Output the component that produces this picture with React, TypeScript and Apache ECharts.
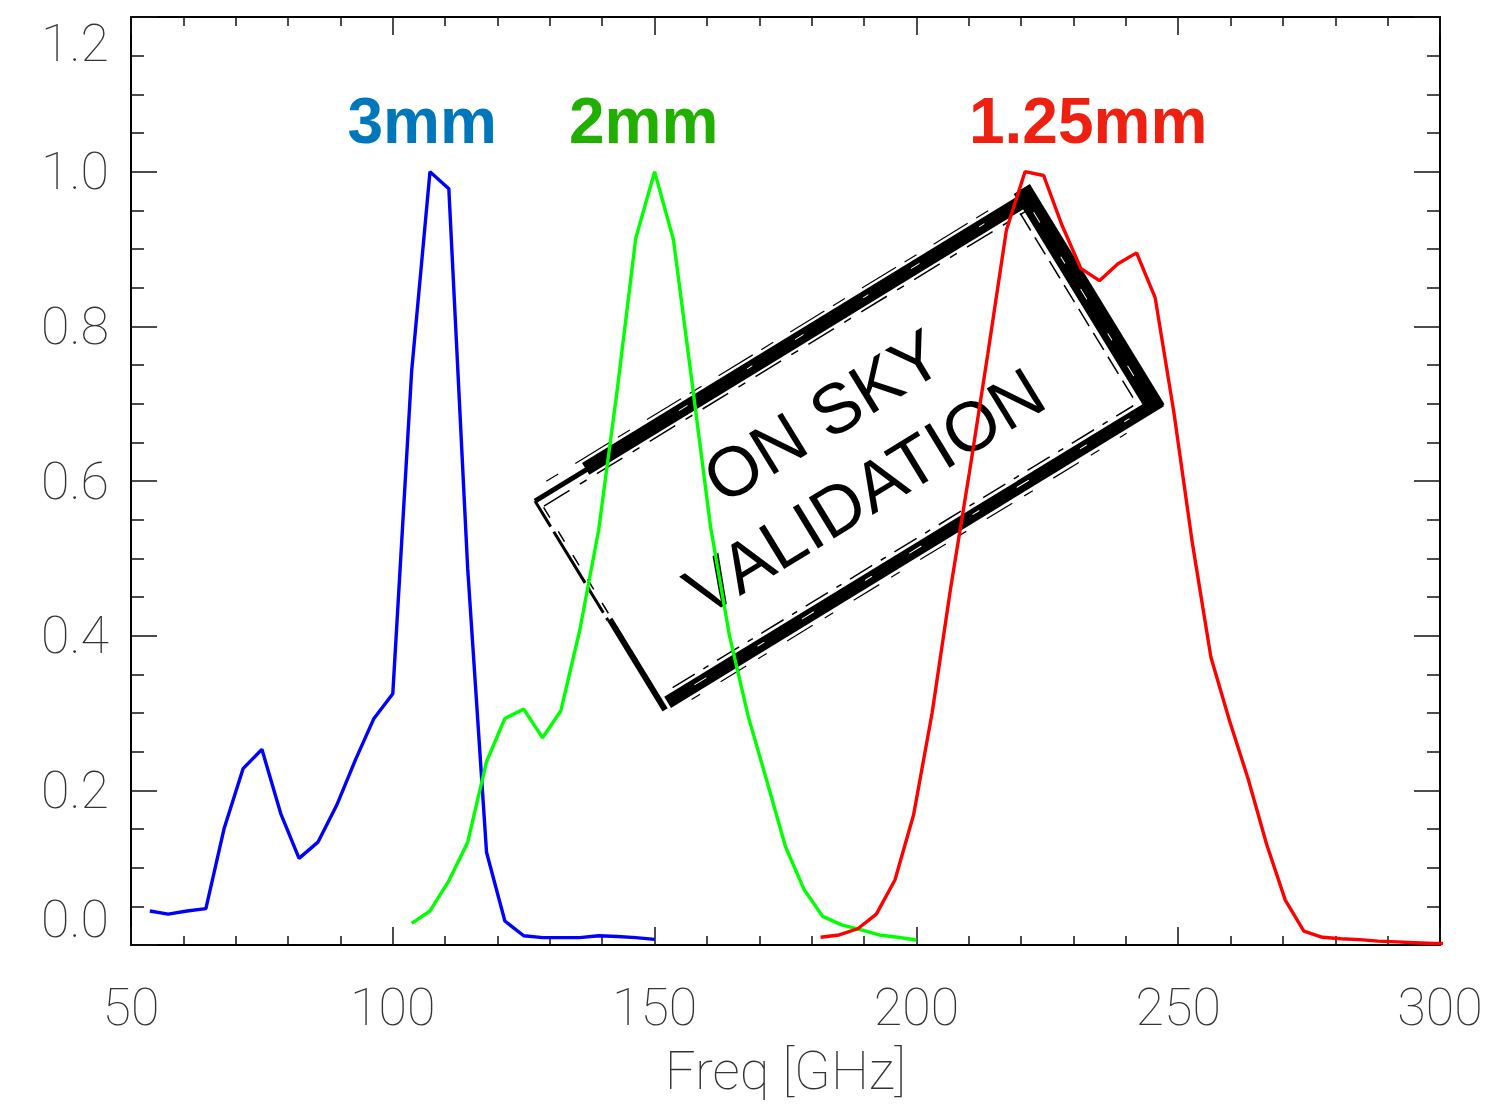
import React, { useEffect, useRef } from "react";
import * as echarts from "echarts";

// ---- data ----
const blueFreq = [53.6, 57.1, 60.7, 64.3, 67.8, 71.4, 75.0, 78.6, 82.1, 85.7, 89.3, 92.9, 96.4, 100.0, 103.6, 107.1, 110.7, 114.3, 117.9, 121.4, 125.0, 128.6, 132.1, 135.7, 139.3, 142.9, 146.4, 150.0];
const blueResp = [0.044, 0.040, 0.044, 0.047, 0.151, 0.228, 0.253, 0.170, 0.112, 0.133, 0.181, 0.240, 0.293, 0.325, 0.742, 1.000, 0.978, 0.487, 0.120, 0.031, 0.012, 0.0095, 0.0095, 0.0095, 0.012, 0.011, 0.0095, 0.0073];

const greenFreq = [103.6, 107.1, 110.7, 114.3, 117.9, 121.4, 125.0, 128.6, 132.1, 135.7, 139.3, 142.9, 146.4, 150.0, 153.6, 157.1, 160.7, 164.3, 167.9, 171.4, 175.0, 178.6, 182.1, 185.7, 189.3, 192.9, 196.4, 200.0];
const greenResp = [0.028, 0.044, 0.083, 0.133, 0.237, 0.293, 0.305, 0.268, 0.303, 0.407, 0.536, 0.72, 0.914, 1.0, 0.912, 0.73, 0.54, 0.40, 0.295, 0.213, 0.127, 0.071, 0.037, 0.026, 0.020, 0.013, 0.010, 0.0065];

const redFreq = [181.7, 185.25, 188.8, 192.35, 195.9, 199.45, 203.0, 206.55, 210.1, 213.65, 217.2, 220.75, 224.3, 227.85, 231.4, 234.95, 238.5, 242.05, 245.6, 249.15, 252.7, 256.25, 259.8, 263.35, 266.9, 270.45, 274.0, 277.55, 281.1, 284.65, 288.2, 291.75, 295.3, 298.85, 302.4];
const redResp = [0.010, 0.013, 0.021, 0.040, 0.084, 0.168, 0.30, 0.462, 0.61, 0.765, 0.925, 1.0, 0.995, 0.93, 0.875, 0.859, 0.881, 0.895, 0.837, 0.69, 0.52, 0.372, 0.29, 0.215, 0.13, 0.058, 0.018, 0.010, 0.008, 0.007, 0.005, 0.004, 0.003, 0.002, 0.002];

const bandNames = ["3mm", "2mm", "1.25mm"];
const bandLabelFreq = [105.6, 147.9, 232.8];
const xTitle = "Freq [GHz]";
const stampLines = ["ON SKY", "VALIDATION"];

const W = 1492;
const H = 1105;
const GRID = { left: 131, right: 52, top: 17, bottom: 160 };
const X_MIN = 50, X_MAX = 300, Y_MIN = 0, Y_MAX = 1.2;

const pairs = (xs: number[], ys: number[]) => xs.map((x, i) => [x, ys[i]]);

const AXIS_FONT = "Roboto";
const LABEL_COLOR = "#333";

function buildStamp() {
  const cx = 845, cy = 452;
  const hw = 290, hh = 120;
  const children: any[] = [];
  const line = (x1: number, y1: number, x2: number, y2: number, w: number, color = "#000", dash?: number[]) =>
    children.push({
      type: "line",
      shape: { x1, y1, x2, y2 },
      style: { stroke: color, lineWidth: w, lineDash: dash, lineCap: "butt" },
    });
  // top edge: thin near the left corner, solid thick band elsewhere
  line(-hw, -hh, -210, -hh, 5);
  line(-230, -hh - 1, hw, -hh - 1, 14);
  line(-hw + 5, -hh + 9, hw - 10, -hh + 9, 1.5, "#000", [30, 12, 8, 12]);
  line(-hw + 20, -hh - 11, hw - 30, -hh - 11, 1.2, "#000", [14, 20, 40, 10]);
  line(-120, -hh - 2, hw - 40, -hh - 2, 1, "#fff", [10, 70, 6, 50]);
  // right edge (thickest)
  line(hw - 2, -hh - 12, hw - 2, hh + 6, 19);
  line(hw - 16, -hh + 8, hw - 16, hh - 8, 1.5, "#000", [20, 8]);
  line(hw - 4, -hh + 14, hw - 4, hh - 14, 1, "#fff", [12, 40, 8, 30]);
  // bottom edge
  line(-hw + 8, hh + 1, hw + 6, hh + 1, 13);
  line(-hw + 20, hh - 9, hw - 20, hh - 9, 1.5, "#000", [26, 10, 6, 10]);
  line(-hw + 30, hh + 11, hw - 40, hh + 11, 1.2, "#000", [10, 24, 30, 14]);
  line(-hw + 40, hh, hw - 30, hh, 1, "#fff", [14, 60, 8, 44]);
  // left edge (thin, broken)
  line(-hw, -hh, -hw, 20, 3, "#000", [30, 6, 60, 5]);
  line(-hw + 4, -hh + 10, -hw + 4, hh - 5, 1.5, "#000", [12, 16]);
  line(-hw + 2, 20, -hw + 2, hh + 6, 6);

  children.push({
    type: "text",
    x: 0,
    y: -42,
    style: {
      text: stampLines[0],
      fontFamily: "Liberation Sans",
      fontSize: 70,
      fill: "#000",
      textAlign: "center",
      textVerticalAlign: "middle",
    },
  });
  children.push({
    type: "text",
    x: -4,
    y: 44,
    style: {
      text: stampLines[1],
      fontFamily: "Liberation Sans",
      fontSize: 70,
      fill: "#000",
      textAlign: "center",
      textVerticalAlign: "middle",
    },
  });
  return {
    type: "group",
    x: cx,
    y: cy,
    rotation: (31.5 * Math.PI) / 180,
    z: 100,
    children,
  };
}

export default function App() {
  const ref = useRef<HTMLDivElement>(null);

  useEffect(() => {
    document.body.style.margin = "0";
    if (!ref.current) return;
    const chart = echarts.init(ref.current, undefined, { renderer: "svg" });

    const plotW = W - GRID.left - GRID.right;
    const xToPx = (f: number) => GRID.left + ((f - X_MIN) / (X_MAX - X_MIN)) * plotW;
    const bandColors = ["#0077BB", "#22B000", "#EE2010"];

    const labelGraphics = bandNames.map((name, i) => ({
      type: "text",
      x: xToPx(bandLabelFreq[i]),
      y: 121,
      z: 100,
      style: {
        text: name,
        fontFamily: "Liberation Sans",
        fontWeight: "bold",
        fontSize: 64,
        fill: bandColors[i],
        textAlign: "center",
        textVerticalAlign: "middle",
      },
    }));

    const baseX = {
      type: "value",
      min: X_MIN,
      max: X_MAX,
      interval: 50,
      axisLine: { show: true, onZero: false, lineStyle: { color: "#000", width: 2 } },
      axisTick: { show: true, inside: true, length: 18, lineStyle: { color: "#111", width: 1.5 } },
      minorTick: { show: true, splitNumber: 5, length: 9, lineStyle: { color: "#111", width: 1.5 } },
      splitLine: { show: false },
      minorSplitLine: { show: false },
    };
    const baseY = {
      type: "value",
      min: Y_MIN,
      max: Y_MAX,
      interval: 0.2,
      axisLine: { show: true, onZero: false, lineStyle: { color: "#000", width: 2 } },
      axisTick: { show: true, inside: true, length: 26, lineStyle: { color: "#111", width: 1.5 } },
      minorTick: { show: true, splitNumber: 4, length: 13, lineStyle: { color: "#111", width: 1.5 } },
      splitLine: { show: false },
      minorSplitLine: { show: false },
    };

    const option: any = {
      animation: false,
      backgroundColor: "#fff",
      grid: { ...GRID, containLabel: false },
      xAxis: [
        {
          ...baseX,
          position: "bottom",
          name: xTitle,
          nameLocation: "middle",
          nameGap: 98,
          nameTextStyle: { fontFamily: AXIS_FONT, fontWeight: 100, fontSize: 54, color: LABEL_COLOR },
          axisLabel: {
            show: true,
            margin: 36,
            fontFamily: AXIS_FONT,
            fontWeight: 100,
            fontSize: 52,
            color: LABEL_COLOR,
          },
        },
        { ...baseX, position: "top", axisLabel: { show: false } },
      ],
      yAxis: [
        {
          ...baseY,
          position: "left",
          axisLabel: {
            show: true,
            margin: 22,
            fontFamily: AXIS_FONT,
            fontWeight: 100,
            fontSize: 52,
            color: LABEL_COLOR,
            formatter: (v: number) => v.toFixed(1),
            verticalAlignMinLabel: "bottom",
            verticalAlignMaxLabel: "top",
          },
        },
        { ...baseY, position: "right", axisLabel: { show: false } },
      ],
      series: [
        {
          type: "line",
          data: pairs(blueFreq, blueResp),
          showSymbol: false,
          clip: true,
          lineStyle: { color: "#0000FF", width: 3.4 },
          itemStyle: { color: "#0000FF" },
        },
        {
          type: "line",
          data: pairs(greenFreq, greenResp),
          showSymbol: false,
          clip: true,
          lineStyle: { color: "#00FF00", width: 3.4 },
          itemStyle: { color: "#00FF00" },
        },
        {
          type: "line",
          data: pairs(redFreq, redResp),
          showSymbol: false,
          clip: true,
          lineStyle: { color: "#FF0000", width: 3.4 },
          itemStyle: { color: "#FF0000" },
        },
      ],
      graphic: [...labelGraphics, buildStamp()],
    };

    chart.setOption(option);
    return () => chart.dispose();
  }, []);

  return <div ref={ref} style={{ width: W, height: H }} />;
}
